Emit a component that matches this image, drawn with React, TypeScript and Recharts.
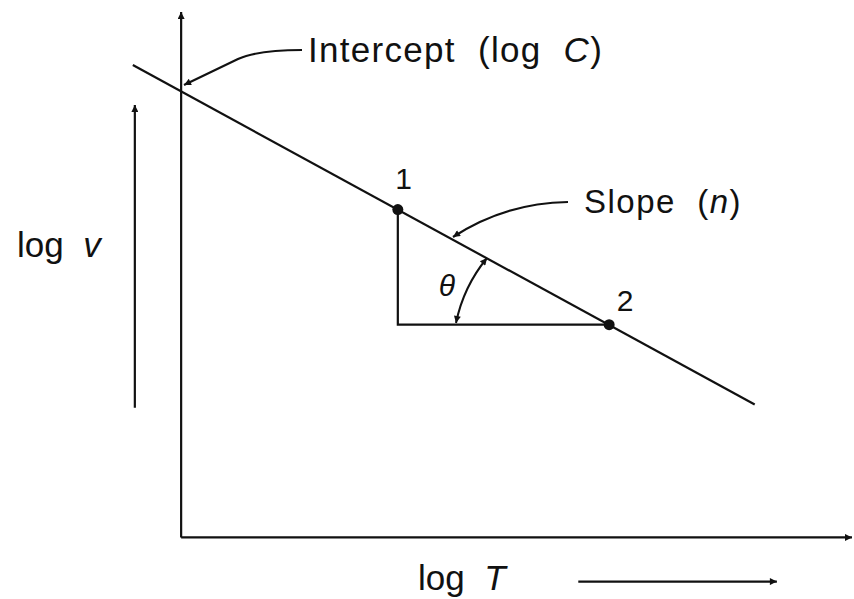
import { ComposedChart, Scatter, XAxis, YAxis, ReferenceLine, LabelList, Customized } from 'recharts'

// log T / log v in arbitrary units
const LINE_LOG_T = [-0.72, 8.55]
const LINE_LOG_V = [8.99, 2.53]
const POINT_LOG_T = [3.23, 6.38]
const POINT_LOG_V = [6.24, 4.05]
const POINT_NAMES = ['1', '2']

const FONT = '"Liberation Sans", Arial, Helvetica, sans-serif'
const INK = '#111'

const lineData = LINE_LOG_T.map((x, i) => ({ x, y: LINE_LOG_V[i] }))
const pointData = POINT_LOG_T.map((x, i) => ({ x, y: POINT_LOG_V[i], name: POINT_NAMES[i] }))
// right-angle construction: down from point 1, across to point 2
const triangleData = [
  { x: POINT_LOG_T[0], y: POINT_LOG_V[0] },
  { x: POINT_LOG_T[0], y: POINT_LOG_V[1] },
  { x: POINT_LOG_T[1], y: POINT_LOG_V[1] },
]

const noDot = () => <g />

const arrowLine = (p: any) => (
  <line x1={p.x1} y1={p.y1} x2={p.x2} y2={p.y2} stroke={INK} strokeWidth={2.2} markerEnd="url(#arrowHead)" />
)

const pointLabel = (p: any) => {
  const { x, y, value, index } = p
  const dx = index === 0 ? 2 : 12
  const dy = index === 0 ? -16 : -9
  return (
    <text x={x + dx} y={y + dy} fontSize={30} fontFamily={FONT} fill={INK}>
      {value}
    </text>
  )
}

function Annotations() {
  return (
    <g fontFamily={FONT} fill={INK}>
      <defs>
        <marker
          id="arrowHead"
          viewBox="0 0 10 10"
          refX="10"
          refY="5"
          markerWidth="13"
          markerHeight="7"
          markerUnits="userSpaceOnUse"
          orient="auto-start-reverse"
        >
          <path d="M0,0 L10,5 L0,10 z" fill={INK} />
        </marker>
      </defs>
      {/* leaders */}
      <path d="M 302 50 Q 258 50 238 59 L 184 85" fill="none" stroke={INK} strokeWidth={2.2} markerEnd="url(#arrowHead)" />
      <path d="M 568 202 Q 505 203 453 237" fill="none" stroke={INK} strokeWidth={2.2} markerEnd="url(#arrowHead)" />
      <path
        d="M 456 323 A 150 150 0 0 1 487 258"
        fill="none"
        stroke={INK}
        strokeWidth={2}
        markerStart="url(#arrowHead)"
        markerEnd="url(#arrowHead)"
      />
      {/* labels */}
      <text x={308} y={62} fontSize={35} letterSpacing={1.3} xmlSpace="preserve">
        Intercept  (log  <tspan fontStyle="italic">C</tspan>)
      </text>
      <text x={584} y={213} fontSize={33} letterSpacing={1.5} xmlSpace="preserve">
        Slope  (<tspan fontStyle="italic">n</tspan>)
      </text>
      <text x={447} y={296} fontSize={30} fontStyle="italic" textAnchor="middle">
        θ
      </text>
      <text x={17} y={257} fontSize={35} xmlSpace="preserve">
        log  <tspan fontStyle="italic">v</tspan>
      </text>
      <text x={418} y={590} fontSize={35} xmlSpace="preserve">
        log  <tspan fontStyle="italic">T</tspan>
      </text>
    </g>
  )
}

export default function App() {
  return (
    <div style={{ position: 'absolute', left: 0, top: 0, width: 854, height: 599, background: '#fff' }}>
      <ComposedChart width={854} height={599} margin={{ top: 12, right: 2, bottom: 9, left: 0 }}>
        <XAxis type="number" dataKey="x" domain={[-2.7, 10]} hide />
        <YAxis type="number" dataKey="y" domain={[-1, 10]} hide />
        <Customized component={<Annotations />} />
        {/* axes with arrowheads */}
        <ReferenceLine segment={[{ x: 0, y: 0 }, { x: 0, y: 10 }]} shape={arrowLine} />
        <ReferenceLine segment={[{ x: 0, y: 0 }, { x: 10, y: 0 }]} shape={arrowLine} />
        {/* direction arrows beside the axis titles */}
        <ReferenceLine segment={[{ x: -0.69, y: 2.47 }, { x: -0.69, y: 8.23 }]} shape={arrowLine} />
        <ReferenceLine segment={[{ x: 5.92, y: -0.84 }, { x: 8.88, y: -0.84 }]} shape={arrowLine} />
        <Scatter data={triangleData} line={{ stroke: INK, strokeWidth: 2.2 }} shape={noDot} isAnimationActive={false} />
        <Scatter data={lineData} line={{ stroke: INK, strokeWidth: 2.2 }} shape={noDot} isAnimationActive={false} />
        <Scatter
          data={pointData}
          isAnimationActive={false}
          shape={(p: any) => <circle cx={p.cx} cy={p.cy} r={5.5} fill={INK} />}
        >
          <LabelList dataKey="name" content={pointLabel} />
        </Scatter>
      </ComposedChart>
    </div>
  )
}
